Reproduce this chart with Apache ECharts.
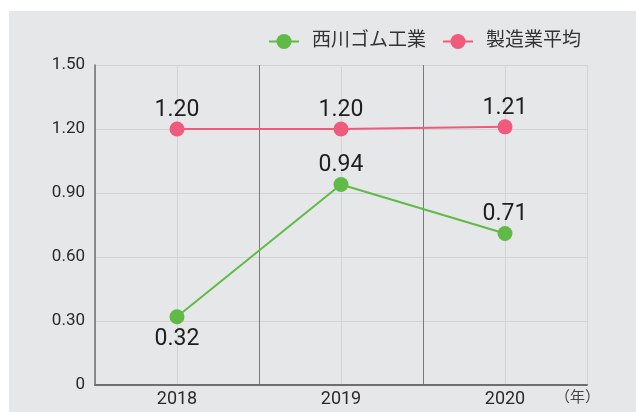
<!DOCTYPE html>
<html>
<head>
<meta charset="utf-8">
<script src="https://cdn.jsdelivr.net/npm/echarts@6/dist/echarts.min.js"></script>
<style>
  html, body { margin: 0; padding: 0; background: #fff; }
  #wrap { position: relative; width: 636px; height: 412px; }
  #bg { position: absolute; left: 9px; top: 11px; right: 0; bottom: 0; background: #e6e7e9; }
  #chart { position: absolute; left: 0; top: 0; width: 636px; height: 412px; }
</style>
</head>
<body>
<div id="wrap">
  <div id="bg"></div>
  <div id="chart"></div>
</div>
<script>
const years = ['2018', '2019', '2020'];
const nishikawa = [0.32, 0.94, 0.71];
const industryAvg = [1.20, 1.20, 1.21];
const yTicks = [0, 0.3, 0.6, 0.9, 1.2, 1.5];

const fontFamily = 'Roboto, "Noto Sans CJK JP", sans-serif';
const green = '#5fbb46';
const pink = '#ef5a7d';

const chart = echarts.init(document.getElementById('chart'));

// light lines at category centres + right edge, dark lines at category boundaries
const gridColors = ['#d2d3d5', '#d2d3d5', '#7a7a7a', '#d2d3d5', '#7a7a7a', '#d2d3d5', '#d2d3d5'];

chart.setOption({
    backgroundColor: 'transparent',
    textStyle: { fontFamily: fontFamily },
    legend: {
        right: 50,
        top: 27,
        itemWidth: 30,
        itemHeight: 19,
        itemGap: 16,
        textStyle: { fontSize: 19, color: '#333', fontFamily: fontFamily, padding: [0, 0, 0, 8] },
        data: ['西川ゴム工業', '製造業平均']
    },
    grid: { left: 95, right: 49, top: 65, bottom: 27 },
    xAxis: [
        {
            type: 'category',
            data: years,
            boundaryGap: true,
            axisLine: { lineStyle: { color: '#6e6e6e', width: 2 } },
            axisTick: { show: false },
            axisLabel: { fontSize: 18, color: '#2a2a2a', margin: 6 },
            splitLine: { show: false }
        },
        {
            type: 'value',
            position: 'bottom',
            min: 0,
            max: 6,
            interval: 1,
            axisLine: { show: false },
            axisTick: { show: false },
            axisLabel: { show: false },
            splitLine: { show: true, lineStyle: { color: gridColors, width: 1 } }
        }
    ],
    yAxis: {
        type: 'value',
        min: 0,
        max: 1.5,
        interval: 0.3,
        axisLine: { show: true, lineStyle: { color: '#6e6e6e', width: 1.5 } },
        axisTick: { show: false },
        axisLabel: {
            fontSize: 17,
            color: '#2a2a2a',
            margin: 10,
            formatter: (v) => (v === 0 ? '0' : v.toFixed(2))
        },
        splitLine: { lineStyle: { color: '#d2d3d5', width: 1 } }
    },
    series: [
        {
            name: '西川ゴム工業',
            type: 'line',
            symbol: 'circle',
            symbolSize: 15,
            itemStyle: { color: green },
            lineStyle: { color: green, width: 2 },
            label: {
                show: true,
                fontSize: 23,
                color: '#1e1e1e',
                distance: 0,
                formatter: (p) => p.value.toFixed(2),
                position: 'top'
            },
            data: nishikawa.map((v, i) => ({
                value: v,
                label: i === 0 ? { position: 'bottom', distance: 4 } : { position: 'top' }
            })),
            z: 3
        },
        {
            name: '製造業平均',
            type: 'line',
            data: industryAvg,
            symbol: 'circle',
            symbolSize: 15,
            itemStyle: { color: pink },
            lineStyle: { color: pink, width: 2 },
            label: {
                show: true,
                position: 'top',
                fontSize: 23,
                color: '#1e1e1e',
                distance: 0,
                formatter: (p) => p.value.toFixed(2)
            },
            z: 3
        }
    ],
    graphic: [
        {
            type: 'text',
            left: 555,
            top: 391,
            style: { text: '（年）', fontSize: 15, fill: '#444', fontFamily: fontFamily }
        }
    ]
});
</script>
</body>
</html>
